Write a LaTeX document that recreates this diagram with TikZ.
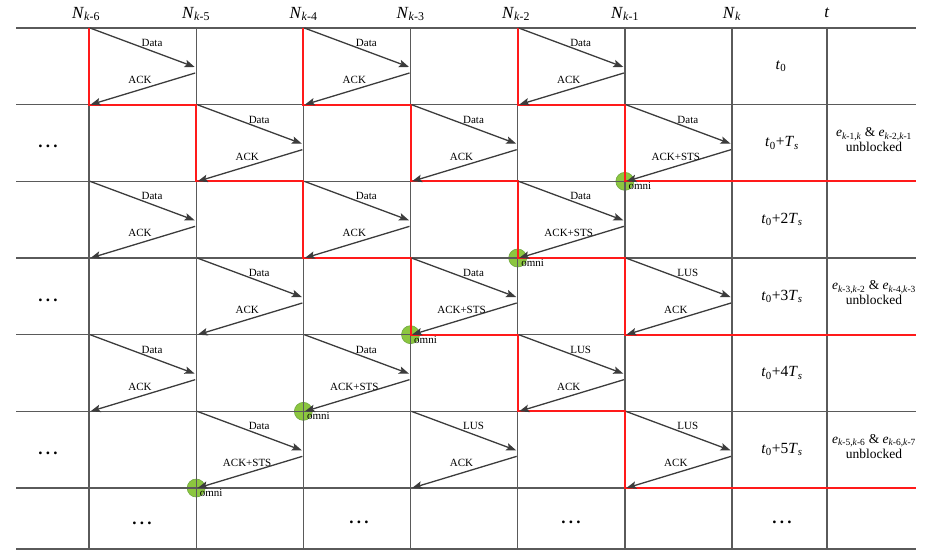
\documentclass[tikz,border=0pt]{standalone}
\usepackage{fontspec}
\setmainfont{Liberation Serif}
\usetikzlibrary{arrows.meta}
\definecolor{gridc}{HTML}{5A5A5A}
\definecolor{arrc}{HTML}{3C3C3C}
\definecolor{redc}{HTML}{FF1A1A}
\definecolor{omnif}{HTML}{8CC63F}
\definecolor{omnid}{HTML}{6FA840}
\newcommand\sbs[1]{\textsubscript{#1}}
\newcommand\mydots{.\hspace{3.2pt}.\hspace{3.2pt}.}
\begin{document}
\begin{tikzpicture}[x=1pt,y=-1pt,
  gridl/.style={draw=gridc,line width=1.3pt},
  redl/.style={draw=redc,line width=2pt,line join=miter},
  msg/.style={draw=arrc,line width=1.3pt,-{Stealth[length=10pt,width=7.5pt,inset=2pt]}},
  lbl/.style={font=\fontsize{11}{12}\selectfont,inner sep=0pt},
  hdr/.style={font=\fontsize{17}{20}\selectfont,inner sep=0pt},
  tlab/.style={font=\fontsize{15.5}{18}\selectfont,inner sep=0pt},
  elab/.style={font=\fontsize{13.5}{15}\selectfont,inner sep=0pt,align=center},
  dotsl/.style={font=\fontsize{17}{18}\selectfont\bfseries,inner sep=0pt,anchor=base},
  omnic/.style={circle,fill=omnif,draw=omnid,line width=0.6pt,minimum size=18pt,inner sep=0pt},
  omnit/.style={font=\fontsize{11}{12}\selectfont,inner sep=0pt,anchor=base west}
]
\useasboundingbox (0,0) rectangle (926,559);
% grid coordinates
\foreach \c in {0,...,6}{
  \foreach \r in {0,...,6}{
    \pgfmathsetmacro\xx{89+107.17*\c}
    \pgfmathsetmacro\yy{28+76.67*\r}
    \coordinate (g\c-\r) at (\xx,\yy);
  }
}
\foreach \r in {0,...,6}{
  \pgfmathsetmacro\yy{28+76.67*\r}
  \coordinate (L\r) at (16,\yy);
  \coordinate (R\r) at (916,\yy);
}
\coordinate (L7) at (16,549);
\coordinate (R7) at (916,549);
% omni circles (behind)
\foreach \r/\c in {1/5,2/4,3/3,4/2,5/1}{
  \pgfmathtruncatemacro\rn{\r+1}
  \node[omnic] (om\r) at (g\c-\rn) {};
  \node[omnit] (omt\r) at ([shift={(3.5,8.5)}]g\c-\rn) {omni};
}
% horizontal grid lines
\foreach \r in {0,...,7}{
  \draw[gridl] (L\r) -- (R\r);
}
% vertical grid lines
\foreach \c in {0,...,6}{
  \pgfmathsetmacro\xx{89+107.17*\c}
  \draw[gridl] (\xx,28) -- (\xx,549);
}
\draw[gridl] (827,28) -- (827,549);
% red staircases
\draw[redl] (g0-0) -- (g0-1) -- (g1-1) -- (g1-2) -- (g2-2) -- (g2-3) -- (g3-3) -- (g3-4) -- (g4-4) -- (g4-5) -- (g5-5) -- (g5-6) -- (R6);
\draw[redl] (g2-0) -- (g2-1) -- (g3-1) -- (g3-2) -- (g4-2) -- (g4-3) -- (g5-3) -- (g5-4) -- (R4);
\draw[redl] (g4-0) -- (g4-1) -- (g5-1) -- (g5-2) -- (R2);
% message arrows
\foreach \r/\c/\ta/\tb in {0/0/Data/ACK,0/2/Data/ACK,0/4/Data/ACK,
  1/1/Data/ACK,1/3/Data/ACK,1/5/Data/ACK+STS,
  2/0/Data/ACK,2/2/Data/ACK,2/4/Data/ACK+STS,
  3/1/Data/ACK,3/3/Data/ACK+STS,3/5/LUS/ACK,
  4/0/Data/ACK,4/2/Data/ACK+STS,4/4/LUS/ACK,
  5/1/Data/ACK+STS,5/3/LUS/ACK,5/5/LUS/ACK}{
  \pgfmathtruncatemacro\cn{\c+1}
  \pgfmathtruncatemacro\rn{\r+1}
  \coordinate (ds\r\c) at ([shift={(1,0)}]g\c-\r);
  \coordinate (de\r\c) at ([shift={(-1.5,39)}]g\cn-\r);
  \coordinate (as\r\c) at ([shift={(-1,45)}]g\cn-\r);
  \coordinate (ae\r\c) at ([shift={(1.5,0)}]g\c-\rn);
  \draw[msg] (ds\r\c) -- (de\r\c);
  \draw[msg] (as\r\c) -- (ae\r\c);
  \node[lbl] (tl\r\c) at ([shift={(63,15)}]g\c-\r) {\ta};
  \node[lbl] (bl\r\c) at ([shift={(51,52)}]g\c-\r) {\tb};
}
% headers
\node[hdr] (h0) at (86,14) {\textit{N}\sbs{\textit{k}-6}};
\node[hdr] (h1) at (196,14) {\textit{N}\sbs{\textit{k}-5}};
\node[hdr] (h2) at (303.5,14) {\textit{N}\sbs{\textit{k}-4}};
\node[hdr] (h3) at (410.5,14) {\textit{N}\sbs{\textit{k}-3}};
\node[hdr] (h4) at (516,14) {\textit{N}\sbs{\textit{k}-2}};
\node[hdr] (h5) at (625,14) {\textit{N}\sbs{\textit{k}-1}};
\node[hdr] (h6) at (732,14) {\textit{N}\sbs{\textit{k}}};
\node[hdr] (h7) at (827,13) {\textit{t}};
% time labels
\node[tlab] (t0) at (781,66.5) {\textit{t}\sbs{0}};
\node[tlab] (t1) at (782,143) {\textit{t}\sbs{0}+\textit{T}\sbs{\textit{s}}};
\node[tlab] (t2) at (782,219.7) {\textit{t}\sbs{0}+2\textit{T}\sbs{\textit{s}}};
\node[tlab] (t3) at (782,296.3) {\textit{t}\sbs{0}+3\textit{T}\sbs{\textit{s}}};
\node[tlab] (t4) at (782,373) {\textit{t}\sbs{0}+4\textit{T}\sbs{\textit{s}}};
\node[tlab] (t5) at (782,449.7) {\textit{t}\sbs{0}+5\textit{T}\sbs{\textit{s}}};
% unblocked labels
\node[elab] (e1) at (874,140) {\textit{e}\sbs{\textit{k}-1,\textit{k}} \& \textit{e}\sbs{\textit{k}-2,\textit{k}-1}\\unblocked};
\node[elab] (e3) at (874,293) {\textit{e}\sbs{\textit{k}-3,\textit{k}-2} \& \textit{e}\sbs{\textit{k}-4,\textit{k}-3}\\unblocked};
\node[elab] (e5) at (874,446.5) {\textit{e}\sbs{\textit{k}-5,\textit{k}-6} \& \textit{e}\sbs{\textit{k}-6,\textit{k}-7}\\unblocked};
% ellipses
\node[dotsl] (d1) at (48,147.5) {\mydots};
\node[dotsl] (d3) at (48,301) {\mydots};
\node[dotsl] (d5) at (48,454.5) {\mydots};
\node[dotsl] (b0) at (142,524) {\mydots};
\node[dotsl] (b2) at (359,523) {\mydots};
\node[dotsl] (b4) at (571,523) {\mydots};
\node[dotsl] (b6) at (782,523) {\mydots};
\end{tikzpicture}
\end{document}
